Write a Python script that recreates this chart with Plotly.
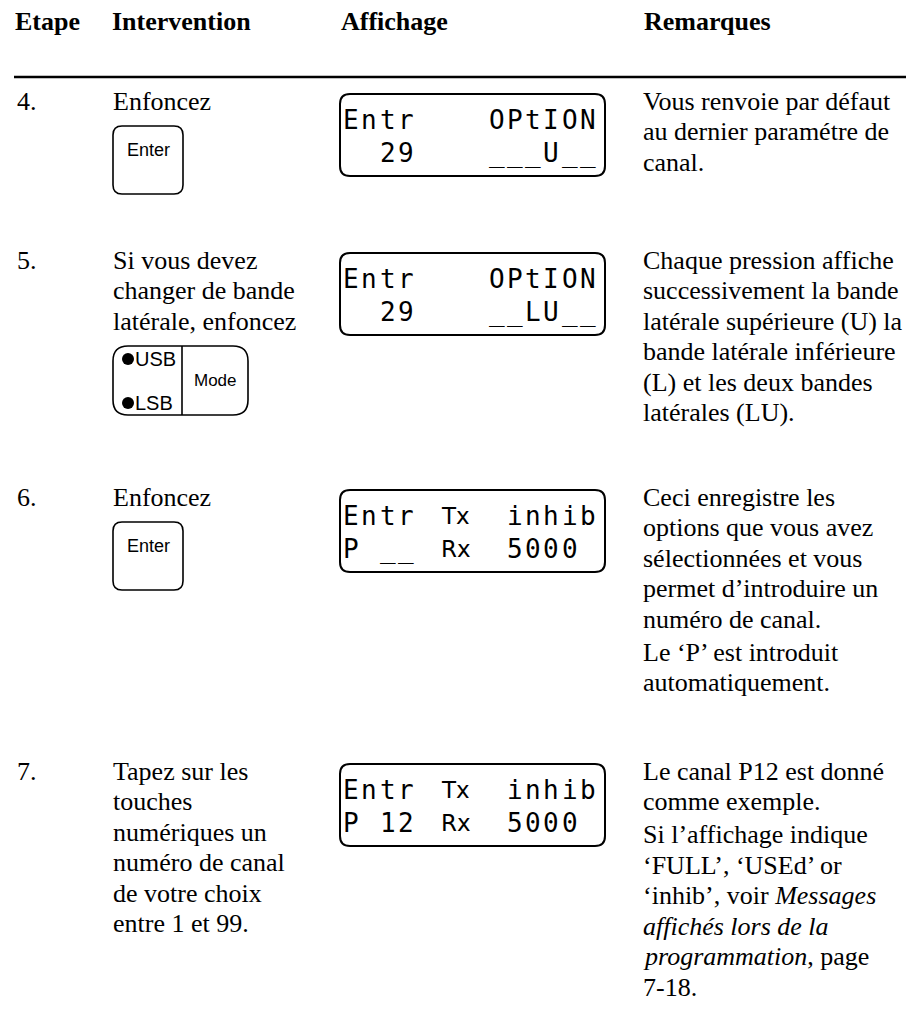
import plotly.graph_objects as go

W, H = 914, 1009
OFF = 8  # default page margin of the html body

# ---------------- content ----------------
header_labels = ["Etape", "Intervention", "Affichage", "Remarques"]
step_labels = ["4.", "5.", "6.", "7."]

intervention_text = [
    ["Enfoncez"],
    ["Si vous devez", "changer de bande", "latérale, enfoncez"],
    ["Enfoncez"],
    ["Tapez sur les", "touches", "numériques un", "numéro de canal",
     "de votre choix", "entre 1 et 99."],
]
button_kinds = ["enter", "mode", "enter", ""]
enter_label = "Enter"
mode_labels = ["USB", "LSB", "Mode"]

display_top_rows = ["Entr    OPtION", "Entr    OPtION", "Entr     inhib", "Entr     inhib"]
display_bottom_rows = ["  29    ___U__", "  29    __LU__", "P __     5000 ", "P 12     5000 "]
display_tx_label = ["", "", "Tx", "Tx"]
display_rx_label = ["", "", "Rx", "Rx"]

remark_paragraphs = [
    [["Vous renvoie par défaut", "au dernier paramétre de", "canal."]],
    [["Chaque pression affiche", "successivement la bande",
      "latérale supérieure (U) la", "bande latérale inférieure",
      "(L) et les deux bandes", "latérales (LU)."]],
    [["Ceci enregistre les", "options que vous avez", "sélectionnées et vous",
      "permet d’introduire un", "numéro de canal."],
     ["Le ‘P’ est introduit", "automatiquement."]],
    [["Le canal P12 est donné", "comme exemple."],
     ["Si l’affichage indique", "‘FULL’, ‘USEd’ or",
      "‘inhib’, voir <i>Messages</i>", "<i>affichés lors de la</i>",
      "<i>programmation</i>, page", "7-18."]],
]

# ---------------- layout constants ----------------
HEADER_X = [13, 110, 339, 642]
HEADER_Y = 21
RULE_Y = 77
NUM_X, INT_X, REM_X = 15, 111, 641
STEP_Y = [101, 260, 497, 771]
PITCH, PARA_GAP = 30.5, 2.5
SERIF = "Liberation Serif"
SANS = "Liberation Sans"
BODY = 26
DISP_X0, DISP_X1, DISP_H = 340, 605, 82
CELL_X0, CELL_W = 342, 18.2
SEG_FONT = "DejaVu Sans Mono"

annotations = []
shapes = []


def text(x, y, s, size=BODY, family=SERIF, xanchor="left", bold=False):
    if bold:
        s = "<b>" + s + "</b>"
    annotations.append(dict(
        x=x, y=y, xref="x", yref="y", text=s, showarrow=False,
        xanchor=xanchor, yanchor="middle",
        font=dict(family=family, size=size, color="black")))


def rrect(x0, y0, x1, y1, r, width=1.6):
    p = (f"M {x0 + r},{y0} L {x1 - r},{y0} Q {x1},{y0} {x1},{y0 + r} "
         f"L {x1},{y1 - r} Q {x1},{y1} {x1 - r},{y1} L {x0 + r},{y1} "
         f"Q {x0},{y1} {x0},{y1 - r} L {x0},{y0 + r} Q {x0},{y0} {x0 + r},{y0} Z")
    shapes.append(dict(type="path", path=p, xref="x", yref="y",
                       line=dict(color="black", width=width)))


# header
for lbl, x in zip(header_labels, HEADER_X):
    text(x, HEADER_Y, lbl, bold=True)
shapes.append(dict(type="line", x0=14, x1=W, y0=RULE_Y, y1=RULE_Y, xref="x", yref="y",
                   line=dict(color="black", width=2.4)))

for i, y0 in enumerate(STEP_Y):
    # step number
    text(NUM_X, y0, step_labels[i])
    # intervention
    for j, line in enumerate(intervention_text[i]):
        text(INT_X, y0 + j * PITCH, line)
    last = y0 + (len(intervention_text[i]) - 1) * PITCH
    kind = button_kinds[i]
    if kind == "enter":
        top = last + 25
        rrect(113, top, 183, top + 68, 9)
        text(148, top + 24, enter_label, size=18, family=SANS, xanchor="center")
    elif kind == "mode":
        top = last + 25
        rrect(113, top, 248, top + 69, 15)
        shapes.append(dict(type="line", x0=182, x1=182, y0=top, y1=top + 69,
                           xref="x", yref="y", line=dict(color="black", width=1.6)))
        for k, dy in enumerate([13, 57]):
            shapes.append(dict(type="circle", x0=122, x1=134, y0=top + dy - 6, y1=top + dy + 6,
                               xref="x", yref="y", fillcolor="black",
                               line=dict(color="black", width=0)))
            text(133, top + dy, mode_labels[k], size=20, family=SANS)
        text(215, top + 34, mode_labels[2], size=17, family=SANS, xanchor="center")

    # display
    dtop = y0 - 7
    rrect(DISP_X0, dtop, DISP_X1, dtop + DISP_H, 10, width=2)
    for row, dy in ((display_top_rows[i], 26), (display_bottom_rows[i], 59)):
        for c, ch in enumerate(row):
            if ch != " ":
                text(CELL_X0 + c * CELL_W + CELL_W / 2, dtop + dy, ch, size=26,
                     family=SEG_FONT, xanchor="center")
    if display_tx_label[i]:
        text(439, dtop + 26, display_tx_label[i], size=23, family="DejaVu Sans")
        text(439, dtop + 59, display_rx_label[i], size=23, family="DejaVu Sans")

    # remarks
    y = y0
    for p, para in enumerate(remark_paragraphs[i]):
        if p > 0:
            y += PARA_GAP
        for line in para:
            text(REM_X, y, line)
            y += PITCH

fig = go.Figure()
fig.update_layout(
    width=W - 2 * OFF, height=H - 2 * OFF, margin=dict(l=0, r=0, t=0, b=0),
    paper_bgcolor="white", plot_bgcolor="white", showlegend=False,
    xaxis=dict(range=[OFF, W - OFF], visible=False, fixedrange=True),
    yaxis=dict(range=[H - OFF, OFF], visible=False, fixedrange=True),
    annotations=annotations, shapes=shapes,
)
fig.write_html("out.html", config={"displayModeBar": False})
